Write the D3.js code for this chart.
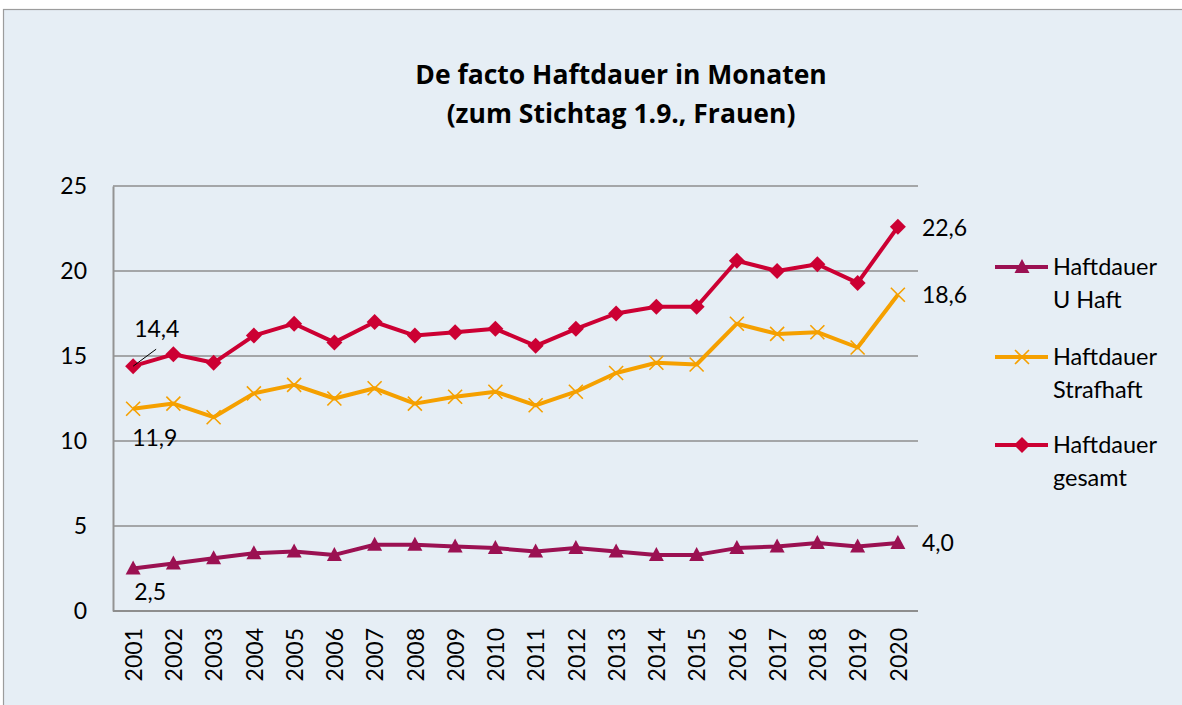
<!DOCTYPE html>
<html>
<head>
<meta charset="utf-8">
<script src="https://cdn.jsdelivr.net/npm/d3@7"></script>
<style>
  html, body { margin: 0; padding: 0; background: #ffffff; }
  svg { display: block; font-family: Lato, "Open Sans", sans-serif; }
  text { fill: #000; }
</style>
</head>
<body>
<svg id="chart" width="1182" height="705"></svg>
<script>
// Average actual detention time for women (months), reference date 1 September
const years = ["2001","2002","2003","2004","2005","2006","2007","2008","2009","2010",
               "2011","2012","2013","2014","2015","2016","2017","2018","2019","2020"];
const uHaft     = [2.5, 2.8, 3.1, 3.4, 3.5, 3.3, 3.9, 3.9, 3.8, 3.7,
                   3.5, 3.7, 3.5, 3.3, 3.3, 3.7, 3.8, 4.0, 3.8, 4.0];
const strafhaft = [11.9, 12.2, 11.4, 12.8, 13.3, 12.5, 13.1, 12.2, 12.6, 12.9,
                   12.1, 12.9, 14.0, 14.6, 14.5, 16.9, 16.3, 16.4, 15.5, 18.6];
const gesamt    = [14.4, 15.1, 14.6, 16.2, 16.9, 15.8, 17.0, 16.2, 16.4, 16.6,
                   15.6, 16.6, 17.5, 17.9, 17.9, 20.6, 20.0, 20.4, 19.3, 22.6];
const yTicks = [0, 5, 10, 15, 20, 25];
const titleLines = ["De facto Haftdauer in Monaten", "(zum Stichtag 1.9., Frauen)"];

const series = [
  { name: ["Haftdauer", "U Haft"],   values: uHaft,     color: "#9b1152", marker: "triangle" },
  { name: ["Haftdauer", "Strafhaft"], values: strafhaft, color: "#f5a000", marker: "cross" },
  { name: ["Haftdauer", "gesamt"],   values: gesamt,    color: "#cc0033", marker: "diamond" }
];

const fmt = v => v.toFixed(1).replace(".", ",");

const svg = d3.select("#chart");

// chart frame
svg.append("rect")
  .attr("x", 3.5).attr("y", 9.5)
  .attr("width", 1220).attr("height", 720)
  .attr("fill", "#e6eef5")
  .attr("stroke", "#9c9c9c").attr("stroke-width", 1.2);

// title
svg.append("text")
  .attr("x", 621).attr("text-anchor", "middle")
  .style("font-family", "'Open Sans', sans-serif")
  .attr("font-weight", "bold").attr("font-size", 26.5)
  .selectAll("tspan").data(titleLines).join("tspan")
  .attr("x", 621)
  .attr("y", (d, i) => 84 + i * 39)
  .text(d => d);

const plot = { left: 113, right: 918, top: 186, bottom: 611 };

const x = d3.scalePoint().domain(years).range([plot.left, plot.right]).padding(0.5);
const y = d3.scaleLinear().domain([0, 25]).range([plot.bottom, plot.top]);

// horizontal gridlines
svg.append("g")
  .selectAll("line").data(yTicks.filter(t => t > 0)).join("line")
  .attr("x1", plot.left).attr("x2", plot.right)
  .attr("y1", d => y(d)).attr("y2", d => y(d))
  .attr("stroke", "#8e8e8e").attr("stroke-width", 1.5);

// y axis
const yAxis = svg.append("g")
  .attr("transform", `translate(${plot.left},0)`)
  .call(d3.axisLeft(y).tickValues(yTicks).tickSize(0).tickPadding(26));
yAxis.attr("font-family", null);
yAxis.select(".domain").attr("stroke", "#939393").attr("stroke-width", 2);
yAxis.selectAll("text").attr("font-size", 23).attr("fill", "#000");

// x axis
const xAxis = svg.append("g")
  .attr("transform", `translate(0,${plot.bottom})`)
  .call(d3.axisBottom(x).tickSize(0));
xAxis.attr("font-family", null);
xAxis.select(".domain").attr("stroke", "#8e8e8e").attr("stroke-width", 2.2)
  .attr("d", `M${plot.left},0H${plot.right}`);
xAxis.selectAll("text")
  .attr("font-size", 23).attr("fill", "#000")
  .attr("text-anchor", "end")
  .attr("transform", "translate(0,17) rotate(-90)")
  .attr("x", 0).attr("y", 0).attr("dy", "0.36em");

// marker shapes
function drawMarker(g, type, color) {
  if (type === "triangle") {
    g.append("path").attr("d", "M0,-8L7.5,6L-7.5,6Z").attr("fill", color);
  } else if (type === "diamond") {
    g.append("path").attr("d", "M0,-8L8,0L0,8L-8,0Z").attr("fill", color);
  } else {
    g.append("path").attr("d", "M-7,-7L7,7M-7,7L7,-7")
      .attr("stroke", color).attr("stroke-width", 1.6).attr("fill", "none");
  }
}

const line = d3.line().x((d, i) => x(years[i])).y(d => y(d));

series.forEach(s => {
  const g = svg.append("g");
  g.append("path").datum(s.values)
    .attr("d", line)
    .attr("fill", "none").attr("stroke", s.color)
    .attr("stroke-width", 4).attr("stroke-linejoin", "round");
  s.values.forEach((v, i) => {
    const m = g.append("g").attr("transform", `translate(${x(years[i])},${y(v)})`);
    drawMarker(m, s.marker, s.color);
  });
});

// value labels at first and last year
const labelG = svg.append("g").attr("font-size", 23);
const first = years[0], last = years[years.length - 1];
// first-year labels
labelG.append("text").attr("x", x(first) + 1).attr("y", y(gesamt[0]) - 29).text(fmt(gesamt[0]));
labelG.append("line")
  .attr("x1", x(first)).attr("y1", y(gesamt[0]))
  .attr("x2", x(first) + 23).attr("y2", y(gesamt[0]) - 17)
  .attr("stroke", "#000").attr("stroke-width", 1);
labelG.append("text").attr("x", x(first) - 1).attr("y", y(strafhaft[0]) + 37).text(fmt(strafhaft[0]));
labelG.append("text").attr("x", x(first) + 1).attr("y", y(uHaft[0]) + 31).text(fmt(uHaft[0]));
// last-year labels
labelG.append("text").attr("x", x(last) + 24).attr("y", y(gesamt[19]) + 9).text(fmt(gesamt[19]));
labelG.append("text").attr("x", x(last) + 24).attr("y", y(strafhaft[19]) + 8).text(fmt(strafhaft[19]));
labelG.append("text").attr("x", x(last) + 24).attr("y", y(uHaft[19]) + 8).text(fmt(uHaft[19]));

// legend
const legendY = [267, 357, 445];
const legend = svg.append("g");
series.forEach((s, i) => {
  const g = legend.append("g").attr("transform", `translate(995,${legendY[i]})`);
  g.append("line").attr("x1", 0).attr("x2", 53).attr("y1", 0).attr("y2", 0)
    .attr("stroke", s.color).attr("stroke-width", 4);
  const m = g.append("g").attr("transform", "translate(27,0)");
  drawMarker(m, s.marker, s.color);
  g.append("text").attr("x", 58).attr("font-size", 23.5)
    .selectAll("tspan").data(s.name).join("tspan")
    .attr("x", 58).attr("y", (d, j) => 8 + j * 33).text(d => d);
});
</script>
</body>
</html>
